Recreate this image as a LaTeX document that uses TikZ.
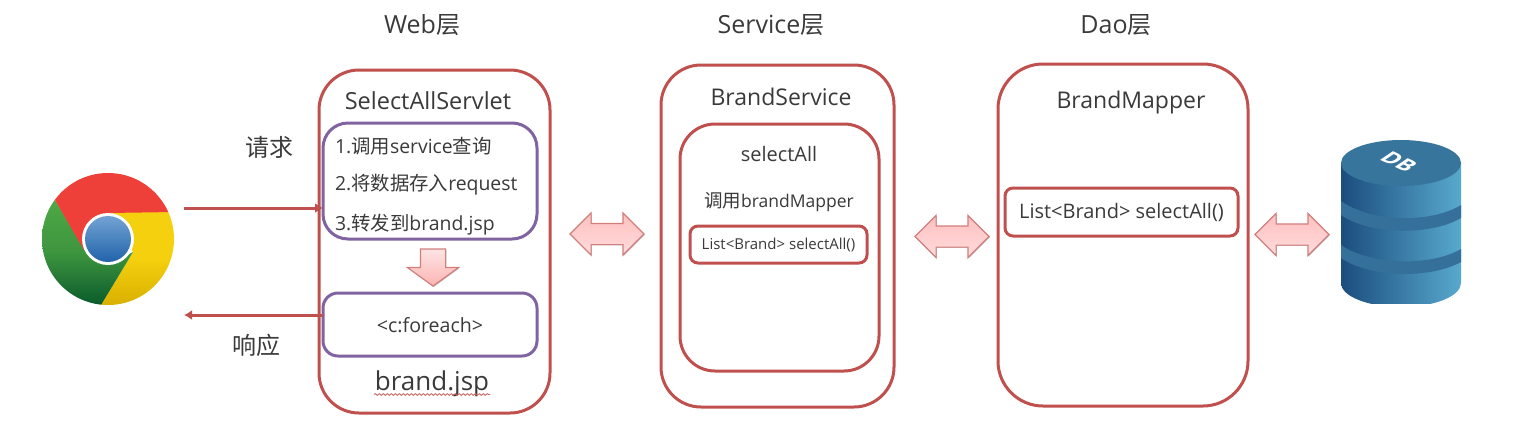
\documentclass[tikz,border=0pt]{standalone}
\usepackage{fontspec}
\setmainfont{Open Sans}
\newfontfamily\cjk{Noto Sans CJK SC}
\usetikzlibrary{shapes.arrows,decorations.pathmorphing,arrows.meta,shadows}
\definecolor{redline}{HTML}{C0504D}
\definecolor{purpleline}{HTML}{8064A2}
\definecolor{inktext}{HTML}{3A3A3A}
\definecolor{arrowline}{HTML}{D27F7C}
\definecolor{pinka}{HTML}{FFC0C0}
\definecolor{pinkb}{HTML}{FFDCDC}
\definecolor{pinkc}{HTML}{FFE4E4}
\definecolor{pinkd}{HTML}{FBB4B2}
\definecolor{chromered}{HTML}{EE4039}
\definecolor{chromeyelt}{HTML}{F4D00E}
\definecolor{chromeyelb}{HTML}{D9B000}
\definecolor{chromegrt}{HTML}{4FA845}
\definecolor{chromegrb}{HTML}{0A5B2B}
\definecolor{hubt}{HTML}{73A3D3}
\definecolor{hubb}{HTML}{2163AA}
\definecolor{dbl}{HTML}{1B4D7E}
\definecolor{dbr}{HTML}{58A9CE}
\definecolor{dbtop}{HTML}{38759D}
\definecolor{dbband}{HTML}{35709A}
\newcommand{\fs}[1]{\fontsize{#1}{#1}\selectfont}
\tikzset{
 x=1pt,y=-1pt,
 every node/.style={inner sep=0pt,outer sep=0pt,text=inktext},
 redbox/.style={draw=redline,line width=3pt,rectangle,fill=white},
 purplebox/.style={draw=purpleline,line width=3pt,rectangle,fill=white},
 flow/.style={draw=redline,line width=3pt,-{Latex[length=8pt,width=10pt]}},
 softshadow/.style={drop shadow={shadow xshift=.8pt,shadow yshift=-.8pt,opacity=.25,fill=black}},
 dblblock/.style={double arrow,draw=arrowline,line width=1.2pt,top color=pinka,bottom color=pinkb,softshadow,
   inner sep=10pt,minimum height=74pt,double arrow head extend=10.5pt,double arrow head indent=0pt,
   double arrow tip angle=90},
}
\begin{document}
\begin{tikzpicture}
\useasboundingbox (0,0) rectangle (1517,432);
% --- outer boxes
\node[redbox,rounded corners=40pt,minimum width=231pt,minimum height=343pt] (web) at (434.5,241.5) {};
\node[redbox,rounded corners=40pt,minimum width=233pt,minimum height=342pt] (service) at (777.5,236) {};
\node[redbox,rounded corners=45pt,minimum width=250pt,minimum height=342pt] (dao) at (1123,235) {};
% --- inner boxes
\node[purplebox,rounded corners=25pt,minimum width=214pt,minimum height=116pt] (steps) at (430,181) {};
\node[purplebox,rounded corners=15pt,minimum width=214pt,minimum height=63pt] (foreach) at (430,324.5) {};
\node[redbox,rounded corners=35pt,minimum width=199pt,minimum height=247pt] (method) at (779.5,247.5) {};
\node[redbox,rounded corners=8pt,minimum width=177pt,minimum height=37pt,font=\fs{15}] (svclist) at (778.5,244.5) {List<Brand> selectAll()};
\node[redbox,rounded corners=8pt,minimum width=233pt,minimum height=48pt,font=\fs{20}] (daolist) at (1121.5,212) {List<Brand> selectAll()};
% --- titles
\node[font=\fs{25}] (t1) at (422,25) {Web{\cjk\fs{24}层}};
\node[font=\fs{25}] (t2) at (771,25) {Service{\cjk\fs{24}层}};
\node[font=\fs{25}] (t3) at (1116,25) {Dao{\cjk\fs{24}层}};
\node[font=\fs{24}\cjk] (req) at (269,147) {请求};
\node[font=\fs{24}\cjk] (resp) at (256,345) {响应};
\node[font=\fs{23.5}] (servlet) at (428,100.5) {SelectAllServlet};
\node[font=\fs{19.4},anchor=west] (s1) at (335,146) {1.{\cjk 调用}service{\cjk 查询}};
\node[font=\fs{19.4},anchor=west] (s2) at (335,185) {2.{\cjk 将数据存入}request};
\node[font=\fs{19.4},anchor=west] (s3) at (335,224.5) {3.{\cjk 转发到}brand.jsp};
\node[font=\fs{19.6}] (fe) at (430,325) {<c:foreach>};
\node[font=\fs{26}] (jsp) at (432,384) {brand.jsp};
\node[font=\fs{23}] (bs) at (781,97) {BrandService};
\node[font=\fs{20}] (sa) at (779,154) {selectAll};
\node[font=\fs{17.5}] (cm) at (779,202) {{\cjk\fs{18.5}调用}brandMapper};
\node[font=\fs{23}] (bm) at (1131,102.5) {BrandMapper};
\draw[redline!90!white,line width=.8pt,decorate,decoration={snake,amplitude=.9pt,segment length=4pt}] (374,394.5) -- (490,394.5);
% --- chrome logo
\coordinate (cc) at (108,239);
\begin{scope}
 \clip (cc) circle (66);
 \fill[white] (cc) circle (66);
 \shade[top color=chromeyelt,bottom color=chromeyelb,middle color=chromeyelt] (108,212) -- (175,212) -- (175,305) -- (101,305) -- (133,252) -- cycle;
 \shade[top color=chromegrt,bottom color=chromegrb,middle color=chromegrt!75!chromegrb] (55,200) -- (82,245) -- (108,265) -- (133,252) -- (101,305) -- (40,305) -- (40,200) -- cycle;
 \fill[chromered] (108,213) -- (175,212) -- (175,170) -- (40,170) -- (40,190) -- (55,200) -- (84,250) -- cycle;
\end{scope}
\node[circle,fill=white,minimum size=52pt] (hub) at (cc) {};
\node[circle,minimum size=46pt,top color=hubt,bottom color=hubb] (hubin) at (cc) {};
\coordinate (chromeIn) at (184,208);
\coordinate (chromeOut) at (184,315);
% --- request / response
\draw[flow] (chromeIn) -- (chromeIn -| steps.west);
\draw[flow] (chromeOut -| foreach.west) -- (chromeOut);
% --- block arrows
\node[dblblock] (da1) at (607,234) {};
\node[dblblock] (da2) at (952,236.5) {};
\node[dblblock] (da3) at (1292,234.5) {};
\node[single arrow,draw=arrowline,line width=1.2pt,shape border rotate=270,top color=pinkc,bottom color=pinkd,softshadow,
  inner sep=12pt,minimum height=37pt,single arrow head extend=13pt,single arrow head indent=0pt,single arrow tip angle=108] (down) at (433,263) {};
% --- database
\begin{scope}
 \clip (1341,130) rectangle (1461,303);
 \shade[left color=dbl,right color=dbr]
   (1341,163) -- (1341,283) arc[start angle=180,end angle=0,x radius=60,y radius=24] -- (1461,163) -- cycle;
 \fill[dbband] (1341,201) .. controls (1370,222) and (1430,224) .. (1461,205) -- (1461,218) .. controls (1430,236) and (1370,235) .. (1341,215) -- cycle;
 \fill[dbband] (1341,245) .. controls (1370,265) and (1430,267) .. (1461,249) -- (1461,262) .. controls (1430,279) and (1370,278) .. (1341,258) -- cycle;
 \fill[dbtop] (1401,163) ellipse[x radius=60,y radius=23];
\end{scope}
\node[text=white,font=\fs{22}\bfseries,rotate=-25,xslant=.6,yscale=.85] (dbl) at (1399,162) {DB};
\end{tikzpicture}
\end{document}
